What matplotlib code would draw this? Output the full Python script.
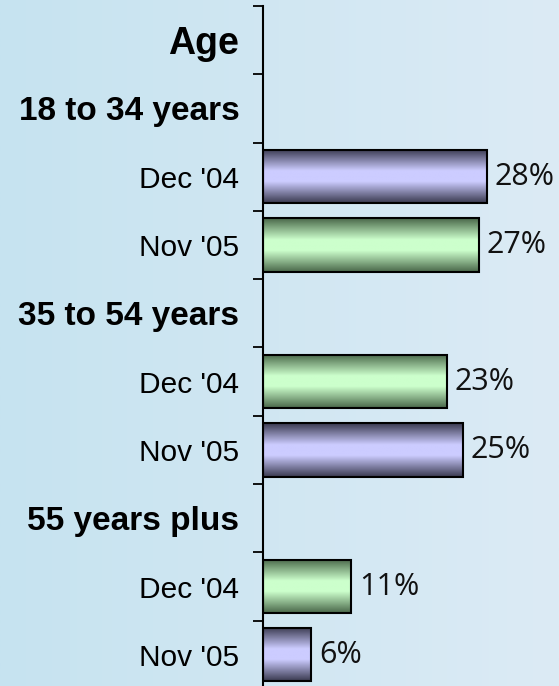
import numpy as np
import matplotlib
matplotlib.use("Agg")
import matplotlib.pyplot as plt
from matplotlib.colors import to_rgb

# data
title = "Age"
groups = ["18 to 34 years", "35 to 54 years", "55 years plus"]
periods = ["Dec '04", "Nov '05"]
values = [[28, 27], [23, 25], [11, 6]]
bar_styles = [["purple", "green"], ["green", "purple"], ["green", "purple"]]

shades = {
    "purple": ("#3a3a50", "#ccccff"),
    "green": ("#4a684a", "#ccffcc"),
}

W, H = 559, 686
fig = plt.figure(figsize=(W / 100, H / 100), dpi=100)

# background gradient
bg = fig.add_axes([0, 0, 1, 1], zorder=0)
c0, c1 = np.array(to_rgb("#c6e3f0")), np.array(to_rgb("#dcebf5"))
t = np.linspace(0, 1, 256)[None, :, None]
bg.imshow(c0 + (c1 - c0) * t, aspect="auto", extent=[0, 1, 0, 1])
bg.set_axis_off()

left = 263 / W
top = 1 - 6 / H
bottom = 1 - 689 / H
ax = fig.add_axes([left, bottom, 1 - left, top - bottom], zorder=1)
ax.patch.set_alpha(0)

labels = [title]
rows = []
y = 1
for g, grp in enumerate(groups):
    labels.append(grp)
    y += 1
    for p, per in enumerate(periods):
        labels.append(per)
        rows.append((y, values[g][p], bar_styles[g][p]))
        y += 1

h = 0.78
tt = np.linspace(0, 1, 100)
d = np.abs(tt - 0.5) * 2
w = np.clip((d - 0.2) / 0.8, 0, 1) ** 1.0
for yy, v, style in rows:
    dark, light = (np.array(to_rgb(c)) for c in shades[style])
    grad = (light + (dark - light) * w[:, None])[:, None, :]
    bar = ax.barh(yy, v, height=h, color="none", edgecolor="black", linewidth=1.5, zorder=3)[0]
    im = ax.imshow(grad, aspect="auto", extent=[0, v, yy + h / 2, yy - h / 2], zorder=2)
    im.set_clip_path(bar)
    ax.text(v + 1.0, yy, f"{v}%", va="center", ha="left", fontsize=22,
            family="Open Sans", color="#111111")

ax.set_xlim(0, 37)
ax.set_ylim(len(labels) - 0.5, -0.5)

ax.set_yticks(range(len(labels)))
ax.set_yticklabels(labels)
for i, lab in enumerate(ax.get_yticklabels()):
    lab.set_family("Liberation Sans")
    if i == 0:
        lab.set_fontsize(27)
        lab.set_fontweight("bold")
    elif labels[i] in groups:
        lab.set_fontsize(24)
        lab.set_fontweight("bold")
    else:
        lab.set_fontsize(21.5)
ax.tick_params(axis="y", which="major", length=0, pad=17)
ax.set_yticks(np.arange(-0.5, len(labels) - 0.5, 1), minor=True)
ax.tick_params(axis="y", which="minor", length=7.2, width=1.3, direction="out")

ax.set_xticks([])
for s in ["top", "right", "bottom"]:
    ax.spines[s].set_visible(False)
ax.spines["left"].set_linewidth(1.5)

fig.savefig("out.png", dpi=100)
